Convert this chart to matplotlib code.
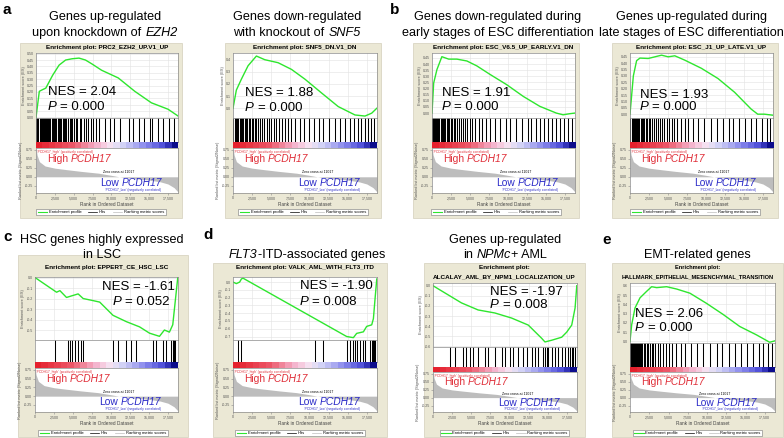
import matplotlib
matplotlib.use('Agg')
import matplotlib.pyplot as plt
import numpy as np
from matplotlib.colors import LinearSegmentedColormap
from matplotlib.patches import Rectangle
from matplotlib.lines import Line2D

plt.rcParams['font.family'] = ['Liberation Sans', 'DejaVu Sans']

# ---------------- data ----------------
XMAX = 18830
rank_ticks = [0, 2500, 5000, 7500, 10000, 12500, 15000, 17500]
rank_tick_labels = ['0', '2,500', '5,000', '7,500', '10,000', '12,500', '15,000', '17,500']
metric_ticks = [0.75, 0.50, 0.25, 0.00, -0.25]

# ranked list metric (shared dataset)
metric_rank = [0, 150, 450, 1200, 2500, 4000, 6000, 8300, 10000, 11017, 13000, 15000, 16500, 17500, 18300, 18830]
metric_value = [0.80, 0.60, 0.42, 0.30, 0.24, 0.20, 0.15, 0.10, 0.04, 0.0, -0.05, -0.09, -0.14, -0.20, -0.30, -0.42]

# panel a (EZH2)
a1_es_rank = [0, 440, 870, 1300, 2200, 3060, 3930, 4800, 5700, 6560, 7400, 8700, 10900, 13100, 15300, 17500, 18800]
a1_es = [0.0, 0.205, 0.218, 0.23, 0.33, 0.41, 0.45, 0.46, 0.465, 0.45, 0.42, 0.37, 0.31, 0.205, 0.115, 0.065, 0.013]
a1_hits = [40, 180, 330, 520, 640, 780, 900, 1060, 1210, 1330, 1480, 1620, 1790, 1900, 2080, 2240, 2390, 2560,
           2700, 2890, 3010, 3180, 3350, 3520, 3700, 3880, 4010, 4230, 4450, 4600, 4820, 5050, 5280, 5490, 5770,
           6010, 6300, 6580, 6900, 7250, 7600, 7950, 8400, 9100, 9750, 10400, 11150, 12300, 12900, 13600, 14350,
           15100, 15400, 16200, 16900, 17600, 18250]
a1_nes, a1_p = '2.04', '0.000'

# panel a (SNF5)
a2_es_rank = [0, 440, 1100, 1970, 3060, 4150, 5900, 7650, 9400, 11600, 13760, 15950, 17260, 18140, 18800]
a2_es = [0.0, 0.15, 0.24, 0.35, 0.43, 0.40, 0.375, 0.32, 0.24, 0.125, 0.014, -0.055, -0.064, -0.04, 0.0]
a2_hits = [60, 250, 390, 560, 700, 880, 1020, 1190, 1350, 1560, 1710, 1880, 2050, 2260, 2430, 2650, 2820, 3040,
           3300, 3560, 3800, 4100, 4390, 4700, 5020, 5300, 5650, 6000, 6400, 6800, 7150, 7600, 8100, 8700, 9300,
           9900, 10600, 11200, 11800, 12500, 13300, 14000, 14700, 15300, 15800, 16300, 16800, 17300, 17700,
           18100, 18500]
a2_nes, a2_p = '1.88', '0.000'

# panel b (ESC early)
b1_es_rank = [0, 220, 650, 1300, 2200, 3280, 4590, 5900, 7650, 9830, 12020, 14200, 16380, 17260, 18140, 18800]
b1_es = [0.0, 0.245, 0.355, 0.46, 0.44, 0.44, 0.425, 0.385, 0.315, 0.232, 0.136, 0.055, 0.0, -0.014, -0.005, 0.0]
b1_hits = [30, 120, 260, 400, 540, 690, 830, 980, 1120, 1280, 1430, 1590, 1760, 1920, 2100, 2280, 2470, 2650,
           2860, 3080, 3300, 3550, 3800, 4050, 4330, 4620, 4950, 5300, 5700, 6150, 6600, 7100, 7700, 8300, 8900,
           9700, 10300, 11100, 11900, 12600, 13100, 13700, 14200, 14800, 15300, 15800, 16300, 16900, 17400,
           17900, 18400]
b1_nes, b1_p = '1.91', '0.000'

# panel b (ESC late)
b2_es_rank = [0, 440, 870, 1310, 2400, 3280, 4150, 5030, 5900, 7210, 9400, 11580, 13770, 15950, 16820, 17700, 18800]
b2_es = [0.0, 0.30, 0.42, 0.44, 0.437, 0.45, 0.463, 0.45, 0.458, 0.424, 0.36, 0.28, 0.172, 0.04, 0.0, 0.0, -0.008]
b2_hits = [50, 200, 350, 480, 620, 770, 910, 1060, 1220, 1390, 1550, 1730, 1900, 2080, 2270, 2480, 2690, 2920,
           3150, 3400, 3650, 3920, 4200, 4500, 4830, 5150, 5500, 5850, 6250, 6700, 7200, 7700, 8300, 9000, 9800,
           10700, 11400, 12200, 13000, 13600, 14300, 15200, 15900, 16600, 17400, 18000, 18500]
b2_nes, b2_p = '1.93', '0.000'

# panel c (HSC / LSC)
c_es_rank = [0, 2840, 3280, 4150, 4810, 5680, 6340, 7650, 8520, 10270, 12020, 13770, 15080, 16390, 17040, 17700,
             18140, 18360, 18800]
c_es = [0.0, -0.14, -0.125, -0.19, -0.175, -0.156, -0.20, -0.22, -0.234, -0.36, -0.42, -0.47, -0.53, -0.56, -0.50,
        -0.52, -0.45, -0.30, 0.0]
c_hits = [2620, 4370, 4590, 4810, 5240, 5680, 6120, 6340, 10270, 10920, 12020, 12670, 13330, 15510, 15950, 16820,
          17260, 17920, 18140, 18230, 18360, 18490]
c_nes, c_p = '-1.61', '0.052'

# panel d (FLT3-ITD)
d1_es_rank = [0, 440, 870, 1100, 1310, 14860, 15740, 16170, 17050, 17480, 18140, 18360, 18580, 18800]
d1_es = [0.0, -0.02, 0.0, 0.04, 0.05, -0.70, -0.715, -0.66, -0.64, -0.57, -0.55, -0.47, -0.21, 0.04]
d1_hits = [660, 1090, 10710, 11800, 14860, 15300, 15730, 15950, 16170, 16610, 17040, 17260, 17920, 18140, 18270,
           18350, 18490, 18620]
d1_nes, d1_p = '-1.90', '0.008'

# panel d (NPMc+)
d2_es_rank = [0, 1530, 3720, 5900, 8090, 10270, 12460, 14200, 14640, 15520, 16830, 17480, 18140, 18580, 18800]
d2_es = [0.0, -0.07, -0.17, -0.24, -0.27, -0.32, -0.39, -0.52, -0.557, -0.54, -0.51, -0.46, -0.39, -0.22, 0.0]
d2_hits = [2185, 2840, 3930, 4370, 4810, 5240, 5900, 6770, 7210, 8080, 8960, 9390, 10050, 10490, 11140, 11800,
           12240, 12890, 13330, 13770, 14420, 14640, 14860, 15080, 15510, 15950, 16390, 16820, 17260, 17700,
           17920, 18140, 18360, 18570]
d2_nes, d2_p = '-1.97', '0.008'

# panel e (EMT)
e_es_rank = [0, 220, 650, 1300, 2160, 2810, 3460, 4750, 6050, 7780, 9940, 12100, 14260, 16420, 18140, 18800]
e_es = [0.0, 0.18, 0.36, 0.47, 0.54, 0.59, 0.58, 0.59, 0.565, 0.52, 0.41, 0.29, 0.16, 0.07, -0.01, 0.005]
e_hits = [20, 110, 230, 350, 470, 600, 730, 860, 1000, 1140, 1290, 1450, 1610, 1780, 1960, 2150, 2350, 2560,
          2800, 3050, 3300, 3600, 3950, 4300, 4700, 5100, 5500, 6000, 6600, 7200, 7900, 8700, 9500, 10400,
          11300, 12000, 12900, 13600, 14400, 15200, 16000, 16700, 17300, 17900, 18400]
e_nes, e_p = '2.06', '0.000'

# ---------------- layout helpers ----------------
W, H = 784, 438
fig = plt.figure(figsize=(7.84, 4.38), dpi=100)
fig.patch.set_facecolor('white')
renderer = fig.canvas.get_renderer()


def fx(x):
    return x / W


def fy(y):
    return 1 - y / H


def rect(x0, y0, x1, y1):
    return [x0 / W, 1 - y1 / H, (x1 - x0) / W, (y1 - y0) / H]


def measure(s, **kw):
    t = fig.text(0, 0, s, **kw)
    w = t.get_window_extent(renderer).width
    t.remove()
    return w


def swidth(s, **kw):
    return measure('x' + s + 'x', **kw) - measure('xx', **kw)


def rich(x, y, segs, size, ha='center', color='black', weight='normal'):
    kws = [dict(fontsize=size, style=st, color=color, weight=weight) for _, st in segs]
    widths = [swidth(s, **kw) for (s, _), kw in zip(segs, kws)]
    total = sum(widths)
    x0 = x - total / 2 if ha == 'center' else (x - total if ha == 'right' else x)
    for (s, st), kw, w in zip(segs, kws, widths):
        lead = len(s) - len(s.lstrip(' '))
        off = swidth(' ' * lead, **kw) if lead else 0
        fig.text(fx(x0 + off), fy(y), s.strip(' '), ha='left', va='center', **kw)
        x0 += w


grad_cmap = LinearSegmentedColormap.from_list('gsea', [
    (0.0, (0.90, 0.13, 0.18)), (0.25, (0.93, 0.35, 0.42)), (0.42, (0.96, 0.70, 0.80)),
    (0.52, (0.97, 0.88, 0.94)), (0.60, (0.86, 0.86, 0.97)), (0.78, (0.55, 0.55, 0.93)),
    (0.92, (0.30, 0.30, 0.85)), (1.0, (0.05, 0.05, 0.55))])

ES_COLOR = '#2ee62e'
SPINE = '#8a8a8a'


def style_spines(ax):
    for s in ax.spines.values():
        s.set_color(SPINE)
        s.set_linewidth(0.5)


def draw_panel(box, px, es_y, hit_y, grad_y, rank_y, es_rank, es_vals, es_ylim, es_ticks, es_fmt,
               hits, gene_set, enr_y, legend_y, nes, pval, nes_pos, p_pos, enr_size=4.6):
    bx0, by0, bx1, by1 = box
    fig.patches.append(Rectangle((fx(bx0), fy(by1)), (bx1 - bx0) / W, (by1 - by0) / H,
                                 transform=fig.transFigure, facecolor='#ebe8d5',
                                 edgecolor='#d3cfba', lw=0.5, zorder=-5))
    x0, x1 = px
    cx = (x0 + x1) / 2
    # enrichment plot title
    if len(enr_y) == 1:
        fig.text(fx(cx), fy(enr_y[0]), 'Enrichment plot: ' + gene_set, ha='center', va='center',
                 fontsize=enr_size, weight='bold')
    else:
        bcx = (bx0 + bx1) / 2
        fig.text(fx(bcx), fy(enr_y[0]), 'Enrichment plot:', ha='center', va='center',
                 fontsize=enr_size, weight='bold')
        fig.text(fx(bcx), fy(enr_y[1]), gene_set, ha='center', va='center',
                 fontsize=enr_size, weight='bold')

    # ES curve
    ax = fig.add_axes(rect(x0, es_y[0], x1, es_y[1]))
    ax.plot(es_rank, es_vals, color=ES_COLOR, lw=1.0)
    ax.set_xlim(0, XMAX)
    ax.set_ylim(*es_ylim)
    ax.set_xticks(rank_ticks)
    ax.set_xticklabels([])
    ax.set_yticks(es_ticks)
    ax.set_yticklabels([es_fmt % v for v in es_ticks])
    ax.tick_params(axis='both', length=0, pad=1.2, labelsize=2.6, labelcolor='#555555')
    ax.grid(True, color='#e2e2e2', lw=0.4)
    ax.set_axisbelow(True)
    ax.set_ylabel('Enrichment score (ES)', fontsize=2.8, labelpad=1.2, color='#555555')
    style_spines(ax)

    # hits
    axh = fig.add_axes(rect(x0, hit_y[0], x1, hit_y[1]))
    axh.vlines(hits, 0, 1, color='black', lw=0.75)
    axh.set_xlim(0, XMAX)
    axh.set_ylim(0, 1)
    axh.set_xticks([])
    axh.set_yticks([])
    style_spines(axh)

    # gradient
    axg = fig.add_axes(rect(x0, grad_y[0], x1, grad_y[1]))
    axg.imshow(np.linspace(0, 1, 22)[None, :], aspect='auto', cmap=grad_cmap,
               extent=(0, XMAX, 0, 1), interpolation='nearest')
    axg.set_xticks([])
    axg.set_yticks([])
    for s in axg.spines.values():
        s.set_visible(False)

    # ranked metric
    axr = fig.add_axes(rect(x0, rank_y[0], x1, rank_y[1]))
    axr.fill_between(metric_rank, metric_value, 0, color='#bdbdbd', lw=0)
    axr.set_xlim(0, XMAX)
    axr.set_ylim(-0.45, 0.80)
    axr.set_xticks(rank_ticks)
    axr.set_xticklabels(rank_tick_labels)
    axr.set_yticks(metric_ticks)
    axr.set_yticklabels(['%.2f' % v for v in metric_ticks])
    axr.tick_params(axis='both', length=1.2, width=0.4, pad=1.2, labelsize=2.6,
                    labelcolor='#555555', color=SPINE)
    axr.set_xlabel('Rank in Ordered Dataset', fontsize=3.4, labelpad=1.2, color='#444444')
    axr.set_ylabel('Ranked list metric (Signal2Noise)', fontsize=2.8, labelpad=1.2, color='#555555')
    axr.text(11017, 0.12, 'Zero cross at 11017', fontsize=2.5, ha='center', va='center')
    axr.text(150, 0.74, "'PCDH17_high' (positively correlated)", fontsize=2.4, color='#e0303a',
             ha='left', va='top')
    axr.text(0.88, 0.07, "'PCDH17_low' (negatively correlated)", fontsize=2.4, color='#3030c8',
             ha='right', va='center', transform=axr.transAxes)
    style_spines(axr)

    pw = x1 - x0
    rh = rank_y[1] - rank_y[0]
    rich(x0 + 0.075 * pw, rank_y[0] + 0.24 * rh, [('High ', 'normal'), ('PCDH17', 'italic')], 7.4,
         ha='left', color='#e0303a')
    rich(x0 + 0.45 * pw, rank_y[0] + 0.77 * rh, [('Low ', 'normal'), ('PCDH17', 'italic')], 7.4,
         ha='left', color='#2b2bc8')

    # NES / P
    rich(nes_pos[0], nes_pos[1], [('NES = ' + nes, 'normal')], 9.5, ha='left')
    rich(p_pos[0], p_pos[1], [('P', 'italic'), (' = ' + pval, 'normal')], 9.5, ha='left')

    # legend
    handles = [Line2D([], [], color=ES_COLOR, lw=0.8), Line2D([], [], color='black', lw=0.5),
               Line2D([], [], color='#bdbdbd', lw=0.5)]
    labels = ['Enrichment profile', 'Hits', 'Ranking metric scores']
    fig.legend(handles, labels, loc='center', bbox_to_anchor=(fx((bx0 + bx1) / 2), fy(legend_y)),
               ncol=3, fontsize=3.0, frameon=True, fancybox=False, edgecolor='#777777',
               handlelength=2.2, handletextpad=0.4, columnspacing=1.6, borderpad=0.35,
               framealpha=1).get_frame().set_linewidth(0.4)


TOP = dict(es_y=(53, 118), hit_y=(118, 142), grad_y=(142, 148), rank_y=(148, 193), enr_y=[48], legend_y=212)

draw_panel((20, 43, 182, 218), (36, 178), es_rank=a1_es_rank, es_vals=a1_es, es_ylim=(-0.004, 0.505),
           es_ticks=[round(0.05 * i, 2) for i in range(11)], es_fmt='%.2f', hits=a1_hits,
           gene_set='PRC2_EZH2_UP.V1_UP', nes=a1_nes, pval=a1_p, nes_pos=(48, 92), p_pos=(48, 107), **TOP)
draw_panel((225, 43, 381, 218), (233, 377), es_rank=a2_es_rank, es_vals=a2_es, es_ylim=(-0.08, 0.455),
           es_ticks=[0.0, 0.1, 0.2, 0.3, 0.4], es_fmt='%.1f', hits=a2_hits,
           gene_set='SNF5_DN.V1_DN', nes=a2_nes, pval=a2_p, nes_pos=(245, 93), p_pos=(245, 108), **TOP)
draw_panel((413, 43, 579, 218), (432, 575), es_rank=b1_es_rank, es_vals=b1_es, es_ylim=(-0.04, 0.49),
           es_ticks=[round(0.05 * i, 2) for i in range(10)], es_fmt='%.2f', hits=b1_hits,
           gene_set='ESC_V6.5_UP_EARLY.V1_DN', nes=b1_nes, pval=b1_p, nes_pos=(442, 93), p_pos=(442, 107),
           **TOP)
draw_panel((612, 43, 778, 218), (630, 773), es_rank=b2_es_rank, es_vals=b2_es, es_ylim=(-0.03, 0.48),
           es_ticks=[round(0.05 * i, 2) for i in range(10)], es_fmt='%.2f', hits=b2_hits,
           gene_set='ESC_J1_UP_LATE.V1_UP', nes=b2_nes, pval=b2_p, nes_pos=(640, 95), p_pos=(640, 107),
           **TOP)

BOT1 = dict(es_y=(277, 340), hit_y=(340, 362), grad_y=(362, 368), rank_y=(368, 412), enr_y=[268], legend_y=433)
BOT2 = dict(grad_y=(367, 372), rank_y=(372, 412), enr_y=[268, 277], legend_y=433)

draw_panel((18, 255, 188, 437), (35, 178), es_rank=c_es_rank, es_vals=c_es, es_ylim=(-0.595, 0.005),
           es_ticks=[0.0, -0.1, -0.2, -0.3, -0.4, -0.5], es_fmt='%.1f', hits=c_hits,
           gene_set='EPPERT_CE_HSC_LSC', nes=c_nes, pval=c_p, nes_pos=(102, 287), p_pos=(113, 302), **BOT1)
draw_panel((213, 263, 387, 437), (233, 377), es_rank=d1_es_rank, es_vals=d1_es, es_ylim=(-0.745, 0.065),
           es_ticks=[0.0, -0.1, -0.2, -0.3, -0.4, -0.5, -0.6, -0.7], es_fmt='%.1f', hits=d1_hits,
           gene_set='VALK_AML_WITH_FLT3_ITD', nes=d1_nes, pval=d1_p, nes_pos=(300, 286), p_pos=(300, 302),
           **BOT1)
draw_panel((424, 263, 585, 437), (433, 577), es_y=(283, 347), hit_y=(347, 367), es_rank=d2_es_rank,
           es_vals=d2_es, es_ylim=(-0.607, 0.027), es_ticks=[0.0, -0.1, -0.2, -0.3, -0.4, -0.5, -0.6],
           es_fmt='%.1f', hits=d2_hits, gene_set='ALCALAY_AML_BY_NPM1_LOCALIZATION_UP', nes=d2_nes,
           pval=d2_p, nes_pos=(490, 292), p_pos=(490, 305), **BOT2)
draw_panel((612, 263, 783, 437), (630, 775), es_y=(283, 343), hit_y=(343, 367), es_rank=e_es_rank,
           es_vals=e_es, es_ylim=(-0.018, 0.63), es_ticks=[0.0, 0.1, 0.2, 0.3, 0.4, 0.5, 0.6],
           es_fmt='%.1f', hits=e_hits, gene_set='HALLMARK_EPITHELIAL_MESENCHYMAL_TRANSITION', nes=e_nes,
           pval=e_p, nes_pos=(635, 314), p_pos=(635, 328), enr_size=4.1, **BOT2)

# titles
TS = 9.1
N, I = 'normal', 'italic'
rich(105, 17, [('Genes up-regulated', N)], TS)
rich(105, 33, [('upon knockdown of ', N), ('EZH2', I)], TS)
rich(297, 17, [('Genes down-regulated', N)], TS)
rich(297, 33, [('with knockout of ', N), ('SNF5', I)], TS)
rich(498, 17, [('Genes down-regulated during', N)], TS)
rich(498, 33, [('early stages of ESC differentiation', N)], TS)
rich(691, 17, [('Genes up-regulated during', N)], TS)
rich(691, 33, [('late stages of ESC differentiation', N)], TS)
rich(102, 240, [('HSC genes highly expressed', N)], TS)
rich(102, 255, [('in LSC', N)], TS)
rich(307, 255, [('FLT3', I), ('-ITD-associated genes', N)], TS)
rich(505, 240, [('Genes up-regulated', N)], TS)
rich(505, 255, [('in ', N), ('NPMc', I), ('+ AML', N)], TS)
rich(697, 255, [('EMT-related genes', N)], TS)

# panel letters
for letter, (lx, ly) in zip('abcde', [(7, 10), (395, 10), (8, 237), (208, 235), (607, 240)]):
    fig.text(fx(lx), fy(ly), letter, fontsize=11, weight='bold', ha='center', va='center')

fig.savefig('out.png', dpi=100)
